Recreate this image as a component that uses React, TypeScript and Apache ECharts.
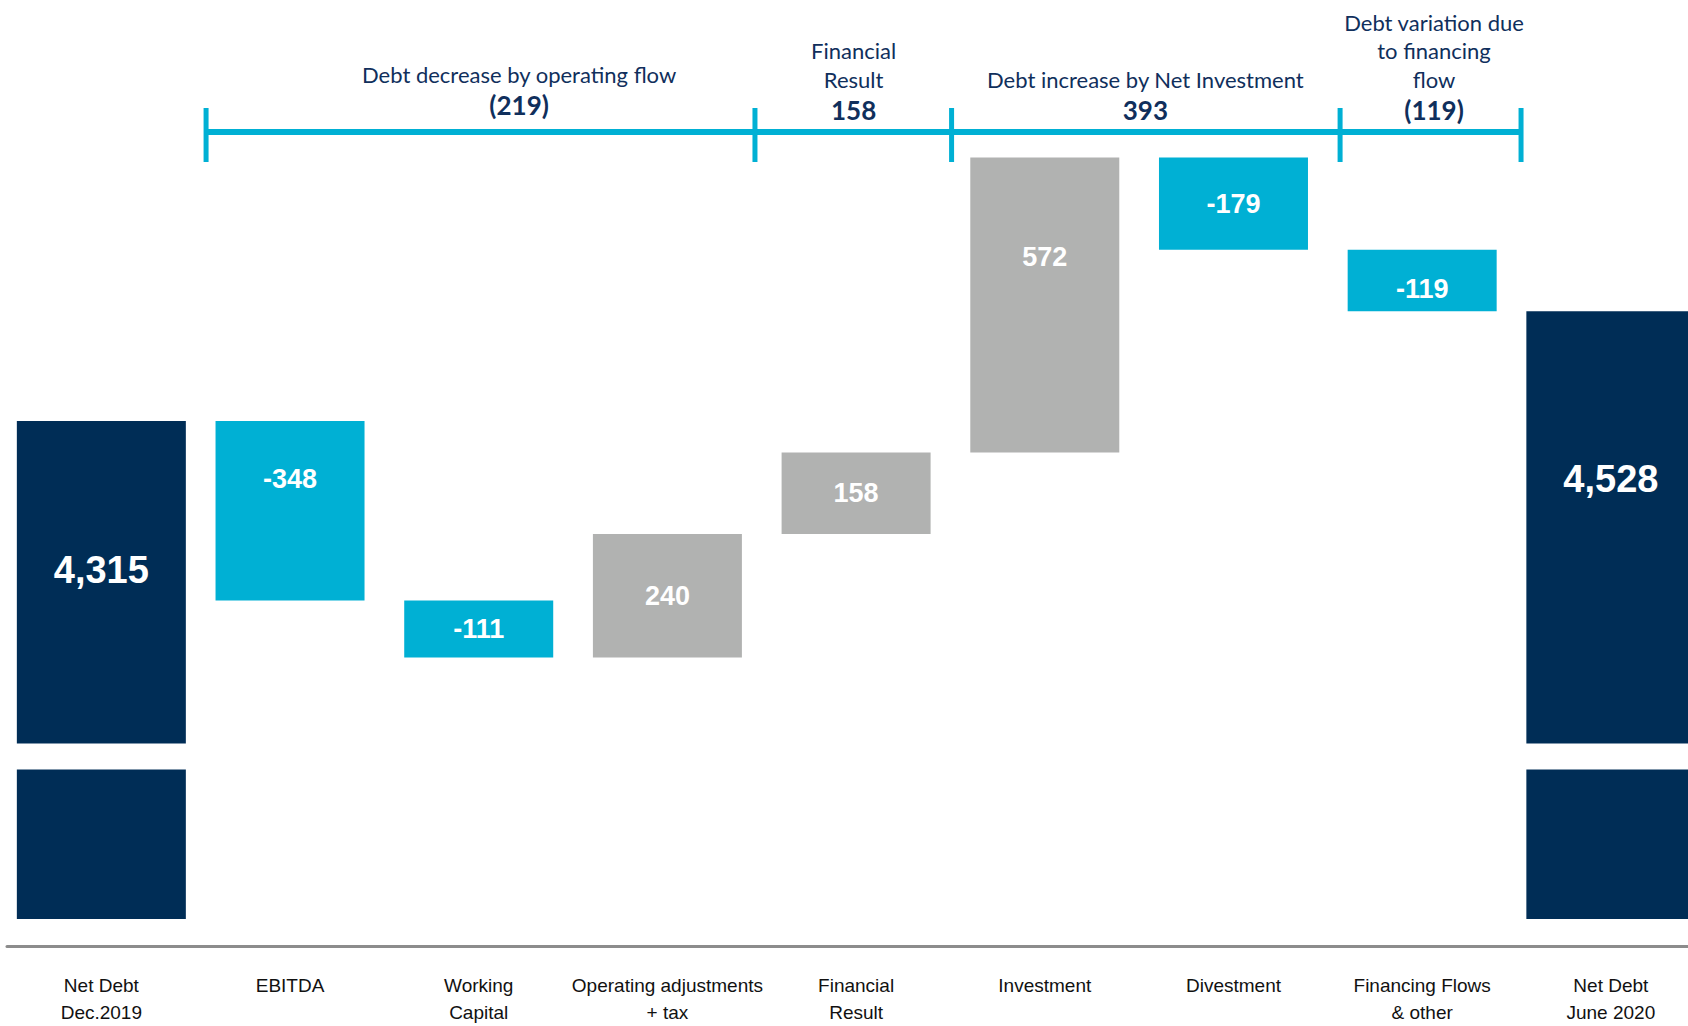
import React, { useEffect, useRef } from "react";
import * as echarts from "echarts";

// ---------- data ----------
const categories = [
  "Net Debt\nDec.2019",
  "EBITDA",
  "Working\nCapital",
  "Operating adjustments\n+ tax",
  "Financial\nResult",
  "Investment",
  "Divestment",
  "Financing Flows\n& other",
  "Net Debt\nJune 2020",
];
const openingDebt = 4315;
const closingDebt = 4528;
// changes for categories 1..7
const changes = [-348, -111, 240, 158, 572, -179, -119];

// bracket groups (category index ranges) and their titles
const groupRanges = [
  [1, 3],
  [4, 4],
  [5, 6],
  [7, 7],
];
const groupTitles = [
  ["Debt decrease by operating flow"],
  ["Financial", "Result"],
  ["Debt increase by Net Investment"],
  ["Debt variation due", "to financing", "flow"],
];

// ---------- style / layout ----------
const NAVY = "#002D56";
const CYAN = "#00B0D4";
const GREY = "#B1B2B1";
const TEXT_NAVY = "#102F5C";
const W = 1720;
const H = 1026;
const changeLabelTop: Record<number, number> = { 1: 58, 5: 99, 7: 39 };
const totalLabelTop: Record<number, number> = { 0: 149, 8: 168 };
const bracketTicks = [0.555, 3.464, 4.506, 6.565, 7.524];
const groupCenters = [2.214, 3.987, 5.533, 7.063];
const groupTotalY = [105, 110, 110, 110];

const fmtChange = (v: number) => (v < 0 ? `-${Math.abs(v)}` : `${v}`);
const fmtGroup = (v: number) => (v < 0 ? `(${Math.abs(v)})` : `${v}`);

export default function App() {
  const ref = useRef<HTMLDivElement>(null);

  useEffect(() => {
    if (!ref.current) return;
    const chart = echarts.init(ref.current, undefined, { renderer: "svg" });

    const baseData: any[] = ["-"];
    const deltaData: any[] = ["-"];
    let running = openingDebt;
    changes.forEach((c, i) => {
      const next = running + c;
      baseData.push(Math.min(running, next));
      const idx = i + 1;
      const off = changeLabelTop[idx];
      deltaData.push({
        value: Math.abs(c),
        itemStyle: { color: c < 0 ? CYAN : GREY },
        label:
          off !== undefined
            ? { position: ["50%", off], align: "center", verticalAlign: "middle" }
            : { position: "inside" },
      });
      running = next;
    });
    baseData.push("-");
    deltaData.push("-");

    const totalData: any[] = categories.map((_, i) => {
      if (i === 0 || i === categories.length - 1) {
        return {
          value: i === 0 ? openingDebt : closingDebt,
          label: {
            position: ["50%", totalLabelTop[i]],
            align: "center",
            verticalAlign: "middle",
          },
        };
      }
      return "-";
    });

    const option: any = {
      animation: false,
      backgroundColor: "#ffffff",
      grid: { left: 7, right: 14.8, top: 145.2, bottom: 106, containLabel: false },
      xAxis: [
        {
          type: "category",
          data: categories,
          offset: 27,
          axisLine: { show: true, onZero: false, lineStyle: { color: "#8C8C8C", width: 3 } },
          axisTick: { show: false },
          axisLabel: {
            interval: 0,
            color: "#111111",
            fontFamily: "Liberation Sans, Arial, sans-serif",
            fontSize: 19,
            lineHeight: 27,
            margin: 26,
          },
          splitLine: { show: false },
        },
        {
          type: "category",
          data: categories,
          show: false,
        },
      ],
      yAxis: {
        type: "value",
        min: 0,
        max: 4850,
        axisLine: { show: false },
        axisTick: { show: false },
        axisLabel: { show: false },
        splitLine: { show: false },
        breaks: [{ start: 290, end: 3690, gap: "3.4%" }],
        breakArea: {
          show: true,
          expandOnClick: false,
          zigzagAmplitude: 0,
          itemStyle: { color: "#ffffff", borderColor: "#ffffff", borderWidth: 0, opacity: 1 },
        },
      },
      series: [
        {
          name: "base",
          type: "bar",
          stack: "wf",
          xAxisIndex: 0,
          barWidth: 149,
          itemStyle: { color: "rgba(0,0,0,0)" },
          emphasis: { disabled: true },
          silent: true,
          data: baseData,
        },
        {
          name: "change",
          type: "bar",
          stack: "wf",
          xAxisIndex: 0,
          barWidth: 149,
          data: deltaData,
          label: {
            show: true,
            color: "#ffffff",
            fontFamily: "Liberation Sans, Arial, sans-serif",
            fontWeight: "bold",
            fontSize: 27,
            formatter: (p: any) => fmtChange(changes[p.dataIndex - 1]),
          },
        },
        {
          name: "total",
          type: "bar",
          xAxisIndex: 1,
          barWidth: 169,
          itemStyle: { color: NAVY },
          data: totalData,
          label: {
            show: true,
            color: "#ffffff",
            fontFamily: "Liberation Sans, Arial, sans-serif",
            fontWeight: "bold",
            fontSize: 38,
            formatter: (p: any) => Number(p.value).toLocaleString("en-US"),
          },
        },
      ],
    };
    chart.setOption(option);

    // annotations tied to the category axis
    const p0 = chart.convertToPixel({ xAxisIndex: 0 }, 0) as number;
    const p1 = chart.convertToPixel({ xAxisIndex: 0 }, 1) as number;
    const step = p1 - p0;
    const X = (f: number) => p0 + f * step;

    const elements: any[] = [];
    const lineY = 132;
    elements.push({
      type: "line",
      shape: { x1: X(bracketTicks[0]), y1: lineY, x2: X(bracketTicks[bracketTicks.length - 1]), y2: lineY },
      style: { stroke: CYAN, lineWidth: 6 },
    });
    bracketTicks.forEach((t) => {
      elements.push({
        type: "line",
        shape: { x1: X(t), y1: 108, x2: X(t), y2: 162 },
        style: { stroke: CYAN, lineWidth: 5 },
      });
    });
    groupRanges.forEach(([a, b], g) => {
      let sum = 0;
      for (let i = a; i <= b; i++) sum += changes[i - 1];
      const cx = X(groupCenters[g]);
      const ty = groupTotalY[g];
      elements.push({
        type: "text",
        x: cx,
        y: ty,
        style: {
          text: fmtGroup(sum),
          fill: TEXT_NAVY,
          font: "bold 26px Lato, 'Noto Sans', sans-serif",
          align: "center",
          verticalAlign: "middle",
        },
      });
      const lines = groupTitles[g];
      lines.forEach((ln, k) => {
        const fromBottom = lines.length - 1 - k;
        elements.push({
          type: "text",
          x: cx,
          y: ty - 30.5 - fromBottom * 28.7,
          style: {
            text: ln,
            fill: TEXT_NAVY,
            font: "22px Lato, 'Noto Sans', sans-serif",
            align: "center",
            verticalAlign: "middle",
          },
        });
      });
    });
    chart.setOption({ graphic: { elements } });

    return () => chart.dispose();
  }, []);

  return (
    <div
      style={{
        position: "fixed",
        left: 0,
        top: 0,
        width: 1688,
        height: H,
        overflow: "hidden",
        background: "#ffffff",
      }}
    >
      <div ref={ref} style={{ width: W, height: H }} />
    </div>
  );
}
